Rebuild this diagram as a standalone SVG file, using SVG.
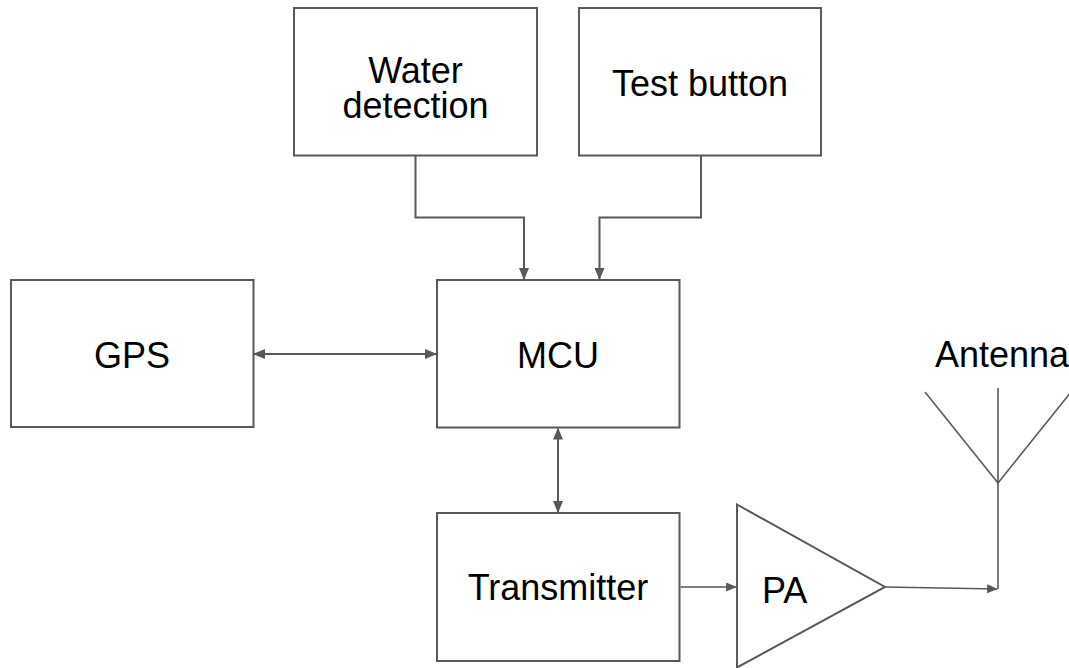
<svg xmlns="http://www.w3.org/2000/svg" width="1069" height="668" viewBox="0 0 1069 668">
  <defs>
    <marker id="arrow" viewBox="0 0 12 10" refX="11" refY="5" markerWidth="12" markerHeight="10" markerUnits="userSpaceOnUse" orient="auto-start-reverse">
      <path d="M0,0 L12,5 L0,10 z" fill="#595959"/>
    </marker>
    <marker id="arrow-s" viewBox="0 0 12 10" refX="11" refY="5" markerWidth="11" markerHeight="9" markerUnits="userSpaceOnUse" orient="auto-start-reverse">
      <path d="M0,0 L12,5 L0,10 z" fill="#595959"/>
    </marker>
  </defs>
  <style>
    .box { fill: #ffffff; stroke: #595959; stroke-width: 2; }
    .label { font-family: "Liberation Sans", Arial, sans-serif; font-size: 36px; fill: #000000; text-anchor: middle; }
    .wire { fill: none; stroke: #595959; stroke-width: 2; }
    .thin { fill: none; stroke: #595959; stroke-width: 1.6; }
  </style>
  <rect width="1069" height="668" fill="#ffffff"/>

  <g id="water-detection">
    <rect class="box" x="294" y="8" width="243" height="147.5"/>
    <text class="label" x="415.5" y="83">Water</text>
    <text class="label" x="415.5" y="118">detection</text>
  </g>

  <g id="test-button">
    <rect class="box" x="579" y="8" width="242" height="147.5"/>
    <text class="label" x="700" y="96">Test button</text>
  </g>

  <g id="gps">
    <rect class="box" x="11" y="280" width="242.5" height="147"/>
    <text class="label" x="132" y="367.5">GPS</text>
  </g>

  <g id="mcu">
    <rect class="box" x="437" y="280" width="242.5" height="147.5"/>
    <text class="label" x="558" y="368">MCU</text>
  </g>

  <g id="transmitter">
    <rect class="box" x="437" y="513" width="242.5" height="148"/>
    <text class="label" x="558" y="600">Transmitter</text>
  </g>

  <g id="pa">
    <polygon class="box" points="737,504.5 885,587 737,667.5"/>
    <text class="label" x="762" y="603" style="text-anchor:start">PA</text>
  </g>

  <g id="antenna">
    <text class="label" x="935" y="367" style="text-anchor:start">Antenna</text>
    <line class="thin" x1="998" y1="388" x2="998" y2="589"/>
    <line class="thin" x1="925" y1="392" x2="998" y2="483"/>
    <line class="thin" x1="998" y1="483" x2="1071" y2="392"/>
  </g>

  <g id="connectors">
    <polyline class="wire" points="415.5,155.5 415.5,217.5 524,217.5 524,279" marker-end="url(#arrow)"/>
    <polyline class="wire" points="701,155.5 701,217.5 599.5,217.5 599.5,279" marker-end="url(#arrow)"/>
    <line class="wire" x1="254" y1="354" x2="436" y2="354" marker-start="url(#arrow)" marker-end="url(#arrow)"/>
    <line class="wire" x1="558" y1="428.5" x2="558" y2="512" marker-start="url(#arrow)" marker-end="url(#arrow)"/>
    <line class="thin" x1="680.5" y1="587" x2="736" y2="587" marker-end="url(#arrow-s)"/>
    <line class="thin" x1="885" y1="587" x2="997" y2="589" marker-end="url(#arrow-s)"/>
  </g>
</svg>
